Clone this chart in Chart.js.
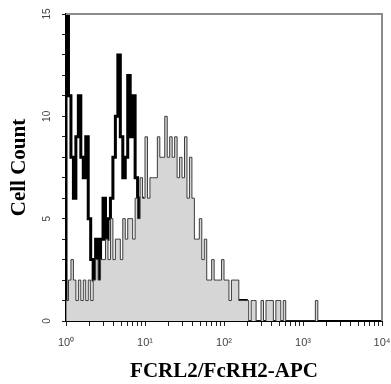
<!DOCTYPE html>
<html>
<head>
<meta charset="utf-8">
<script src="https://cdn.jsdelivr.net/npm/chart.js@4"></script>
<style>
  html, body { margin: 0; padding: 0; background: #fff; }
  #wrap { width: 391px; height: 384px; }
</style>
</head>
<body>
<div id="wrap"><canvas id="histo"></canvas></div>
<script>
// log channels, 32 per decade, 10^0 .. 10^4
const decadeLabels = ['10⁰', '10¹', '10²', '10³', '10⁴'];
const binsPerDecade = 32;
const yLabels = [0, 5, 10, 15];

// FCRL2 stained cells (grey filled)
const stainedCounts = [
  1,2,3,2,1,2,1,2,1,2,1,2,
  3,2,3,3,4,3,5,3,4,4,3,5,
  4,5,5,4,6,5,7,6,9,6,7,7,
  7,9,8,8,10,8,9,8,9,7,8,7,
  9,6,8,6,4,4,5,3,4,2,2,3,
  2,2,2,3,2,2,1,2,2,2,1,1,
  1,1,0,1,1,0,0,1,0,1,1,1,
  0,1,1,0,1,0,0,0,0,0,0,0,
  0,0,0,0,0,1
];

// isotype control (black outline)
const isotypeCounts = [
  15,11,8,6,9,11,8,7,9,5,3,2,
  4,2,4,6,4,5,6,8,10,13,9,7,
  8,12,9,11,7,5,6,5,4,4,2,1,
  2,2,2,1,1,0,1,1,0,1,2,1,
  1,1,0,0,0,0,0,0,0,0,0,0,
  0,0,0,0,0,0,0,0,0,1,1,1,
  1
];

function toSteps(counts) {
  const pts = [{ x: 0, y: 0 }];
  counts.forEach((y, x) => pts.push({ x, y }));
  pts.push({ x: counts.length, y: 0 });
  return pts;
}

const frame = {
  id: 'frame',
  afterDraw(chart) {
    const { ctx, chartArea: a, scales } = chart;
    ctx.save();
    ctx.strokeStyle = '#8c8c8c';
    ctx.lineWidth = 2;
    ctx.beginPath();
    ctx.moveTo(a.left, a.top);
    ctx.lineTo(a.right, a.top);
    ctx.lineTo(a.right, a.bottom);
    ctx.stroke();
    // rotated y labels
    ctx.fillStyle = '#444';
    ctx.font = '10px "Liberation Sans", Arial';
    ctx.textAlign = 'center';
    ctx.textBaseline = 'middle';
    yLabels.forEach(v => {
      const y = scales.y.getPixelForValue(v);
      ctx.save();
      ctx.translate(47, y);
      ctx.rotate(-Math.PI / 2);
      ctx.fillText(String(v), 0, 0);
      ctx.restore();
    });
    ctx.restore();
  }
};

const maxBin = decadeLabels.length - 1;

new Chart(document.getElementById('histo'), {
  type: 'line',
  data: {
    datasets: [
      {
        data: toSteps(stainedCounts),
        stepped: 'before',
        fill: 'origin',
        backgroundColor: '#d6d6d6',
        borderColor: '#3c3c3c',
        borderWidth: 1,
        pointRadius: 0
      },
      {
        data: toSteps(isotypeCounts),
        stepped: 'before',
        fill: false,
        borderColor: '#000',
        borderWidth: 3,
        borderJoinStyle: 'miter',
        pointRadius: 0
      }
    ]
  },
  options: {
    responsive: true,
    maintainAspectRatio: false,
    animation: false,
    layout: { padding: { left: 0, top: 14, right: 9, bottom: 0 } },
    plugins: { legend: { display: false }, tooltip: { enabled: false } },
    scales: {
      x: {
        type: 'linear',
        min: 0,
        max: maxBin * binsPerDecade,
        afterBuildTicks(s) {
          const t = [];
          for (let d = 0; d <= maxBin; d++) {
            t.push({ value: d * binsPerDecade });
            if (d < maxBin) {
              for (let m = 2; m <= 9; m++) t.push({ value: (d + Math.log10(m)) * binsPerDecade });
            }
          }
          s.ticks = t;
        },
        afterFit(s) {
          s.height = 63;
          s.paddingLeft = 0;
          s.paddingRight = 0;
        },
        ticks: {
          autoSkip: false,
          maxRotation: 0,
          padding: 10,
          color: '#444',
          font: { family: '"Liberation Sans", Arial', size: 11 },
          callback: v => {
            const d = v / binsPerDecade;
            return Math.abs(d - Math.round(d)) < 1e-6 ? decadeLabels[Math.round(d)] : '';
          }
        },
        grid: { drawOnChartArea: false, drawTicks: true, tickLength: 5, color: '#222', lineWidth: 1 },
        border: { color: '#000', width: 2 },
        title: {
          display: true,
          text: 'FCRL2/FcRH2-APC',
          color: '#000',
          font: { family: '"Liberation Serif", "Times New Roman"', size: 21, weight: 'bold' },
          padding: { top: 0, bottom: 0 }
        }
      },
      y: {
        min: 0,
        max: 15,
        afterFit(s) { s.width = 66; },
        ticks: { stepSize: 1, display: false },
        grid: { drawOnChartArea: false, drawTicks: true, tickLength: 4, color: '#222', lineWidth: 1 },
        border: { color: '#000', width: 2 },
        title: {
          display: true,
          text: 'Cell Count',
          color: '#000',
          font: { family: '"Liberation Serif", "Times New Roman"', size: 21, weight: 'bold' },
          padding: { top: 7, bottom: 0 }
        }
      }
    }
  },
  plugins: [frame]
});
</script>
</body>
</html>
